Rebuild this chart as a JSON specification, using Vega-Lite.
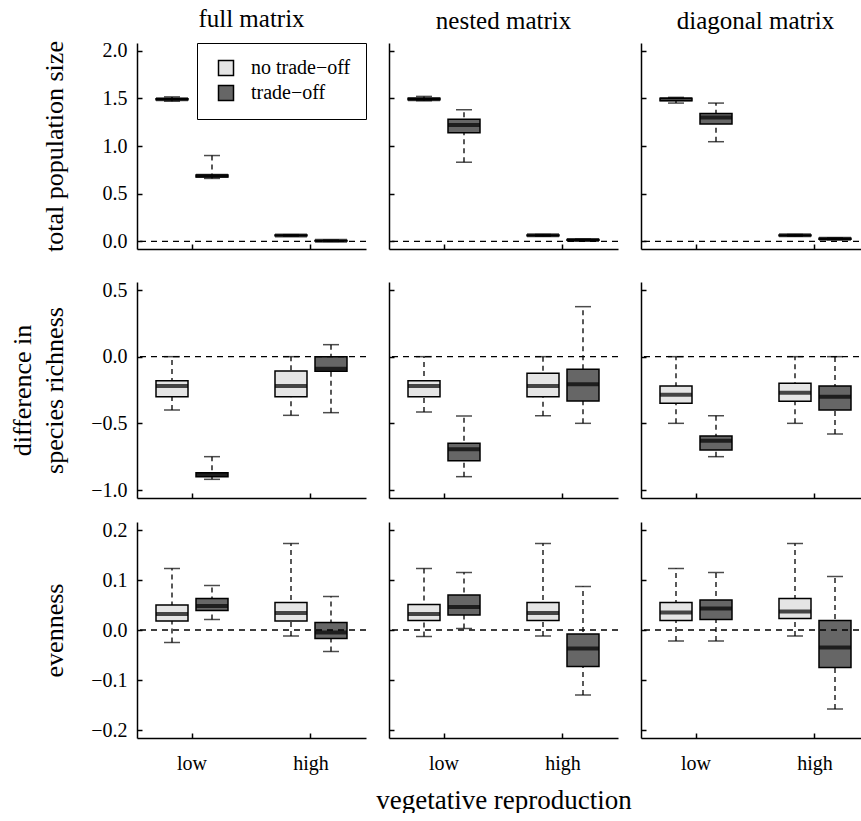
{
"$schema": "https://vega.github.io/schema/vega-lite/v6.json",
"padding": {"left": 9, "top": 6, "right": 0, "bottom": 0},
"background": "white",
"config": {
  "font": "Liberation Serif",
  "view": {"stroke": null},
  "axis": {"domainColor": "black", "domainWidth": 1.5, "tickColor": "black", "tickWidth": 1.5, "tickSize": -5, "labelFont": "Liberation Serif", "labelFontSize": 20, "labelColor": "black", "titleFont": "Liberation Serif", "titleFontWeight": "normal", "titleColor": "black", "titleFontSize": 26, "grid": false},
  "axisX": {"labelPadding": 20, "labelAngle": 0},
  "axisY": {"labelPadding": 15},
  "title": {"font": "Liberation Serif", "fontSize": 25, "fontWeight": "normal", "color": "black", "anchor": "middle", "offset": 9}
},
"datasets": {"stats": [
 {"metric":"pop","matrix":"full","vr":"low","trade":"no trade−off","lo":1.47,"q1":1.485,"med":1.49,"q3":1.495,"hi":1.515},
 {"metric":"pop","matrix":"full","vr":"low","trade":"trade−off","lo":0.66,"q1":0.675,"med":0.688,"q3":0.695,"hi":0.9},
 {"metric":"pop","matrix":"full","vr":"high","trade":"no trade−off","lo":0.055,"q1":0.058,"med":0.062,"q3":0.066,"hi":0.07},
 {"metric":"pop","matrix":"full","vr":"high","trade":"trade−off","lo":0.0,"q1":0.004,"med":0.007,"q3":0.01,"hi":0.014},
 {"metric":"pop","matrix":"nested","vr":"low","trade":"no trade−off","lo":1.475,"q1":1.485,"med":1.49,"q3":1.5,"hi":1.52},
 {"metric":"pop","matrix":"nested","vr":"low","trade":"trade−off","lo":0.83,"q1":1.14,"med":1.22,"q3":1.28,"hi":1.38},
 {"metric":"pop","matrix":"nested","vr":"high","trade":"no trade−off","lo":0.055,"q1":0.058,"med":0.063,"q3":0.067,"hi":0.072},
 {"metric":"pop","matrix":"nested","vr":"high","trade":"trade−off","lo":0.008,"q1":0.011,"med":0.015,"q3":0.019,"hi":0.023},
 {"metric":"pop","matrix":"diagonal","vr":"low","trade":"no trade−off","lo":1.45,"q1":1.475,"med":1.49,"q3":1.5,"hi":1.51},
 {"metric":"pop","matrix":"diagonal","vr":"low","trade":"trade−off","lo":1.045,"q1":1.23,"med":1.3,"q3":1.34,"hi":1.45},
 {"metric":"pop","matrix":"diagonal","vr":"high","trade":"no trade−off","lo":0.055,"q1":0.058,"med":0.063,"q3":0.068,"hi":0.072},
 {"metric":"pop","matrix":"diagonal","vr":"high","trade":"trade−off","lo":0.018,"q1":0.022,"med":0.027,"q3":0.032,"hi":0.036},
 {"metric":"rich","matrix":"full","vr":"low","trade":"no trade−off","lo":-0.4,"q1":-0.3,"med":-0.22,"q3":-0.18,"hi":0.0},
 {"metric":"rich","matrix":"full","vr":"low","trade":"trade−off","lo":-0.92,"q1":-0.9,"med":-0.885,"q3":-0.87,"hi":-0.75},
 {"metric":"rich","matrix":"full","vr":"high","trade":"no trade−off","lo":-0.44,"q1":-0.3,"med":-0.22,"q3":-0.107,"hi":0.0},
 {"metric":"rich","matrix":"full","vr":"high","trade":"trade−off","lo":-0.42,"q1":-0.11,"med":-0.09,"q3":0.0,"hi":0.09},
 {"metric":"rich","matrix":"nested","vr":"low","trade":"no trade−off","lo":-0.415,"q1":-0.3,"med":-0.22,"q3":-0.18,"hi":0.0},
 {"metric":"rich","matrix":"nested","vr":"low","trade":"trade−off","lo":-0.9,"q1":-0.78,"med":-0.695,"q3":-0.65,"hi":-0.445},
 {"metric":"rich","matrix":"nested","vr":"high","trade":"no trade−off","lo":-0.443,"q1":-0.3,"med":-0.22,"q3":-0.125,"hi":0.0},
 {"metric":"rich","matrix":"nested","vr":"high","trade":"trade−off","lo":-0.5,"q1":-0.333,"med":-0.207,"q3":-0.095,"hi":0.375},
 {"metric":"rich","matrix":"diagonal","vr":"low","trade":"no trade−off","lo":-0.5,"q1":-0.35,"med":-0.285,"q3":-0.22,"hi":0.0},
 {"metric":"rich","matrix":"diagonal","vr":"low","trade":"trade−off","lo":-0.75,"q1":-0.7,"med":-0.63,"q3":-0.595,"hi":-0.443},
 {"metric":"rich","matrix":"diagonal","vr":"high","trade":"no trade−off","lo":-0.5,"q1":-0.335,"med":-0.27,"q3":-0.2,"hi":0.0},
 {"metric":"rich","matrix":"diagonal","vr":"high","trade":"trade−off","lo":-0.58,"q1":-0.4,"med":-0.3,"q3":-0.22,"hi":0.0},
 {"metric":"even","matrix":"full","vr":"low","trade":"no trade−off","lo":-0.025,"q1":0.018,"med":0.032,"q3":0.05,"hi":0.123},
 {"metric":"even","matrix":"full","vr":"low","trade":"trade−off","lo":0.021,"q1":0.039,"med":0.048,"q3":0.063,"hi":0.089},
 {"metric":"even","matrix":"full","vr":"high","trade":"no trade−off","lo":-0.012,"q1":0.018,"med":0.034,"q3":0.055,"hi":0.173},
 {"metric":"even","matrix":"full","vr":"high","trade":"trade−off","lo":-0.043,"q1":-0.017,"med":-0.005,"q3":0.015,"hi":0.067},
 {"metric":"even","matrix":"nested","vr":"low","trade":"no trade−off","lo":-0.013,"q1":0.019,"med":0.032,"q3":0.051,"hi":0.123},
 {"metric":"even","matrix":"nested","vr":"low","trade":"trade−off","lo":0.003,"q1":0.03,"med":0.046,"q3":0.07,"hi":0.115},
 {"metric":"even","matrix":"nested","vr":"high","trade":"no trade−off","lo":-0.012,"q1":0.019,"med":0.034,"q3":0.055,"hi":0.173},
 {"metric":"even","matrix":"nested","vr":"high","trade":"trade−off","lo":-0.13,"q1":-0.073,"med":-0.037,"q3":-0.008,"hi":0.087},
 {"metric":"even","matrix":"diagonal","vr":"low","trade":"no trade−off","lo":-0.022,"q1":0.019,"med":0.035,"q3":0.055,"hi":0.123},
 {"metric":"even","matrix":"diagonal","vr":"low","trade":"trade−off","lo":-0.022,"q1":0.021,"med":0.043,"q3":0.06,"hi":0.115},
 {"metric":"even","matrix":"diagonal","vr":"high","trade":"no trade−off","lo":-0.012,"q1":0.023,"med":0.037,"q3":0.063,"hi":0.173},
 {"metric":"even","matrix":"diagonal","vr":"high","trade":"trade−off","lo":-0.158,"q1":-0.075,"med":-0.035,"q3":0.019,"hi":0.107}
]},
"columns": 3,
"align": "each",
"spacing": {"row": 19, "column": 8},
"resolve": {"scale": {"fill": "independent"}, "legend": {"fill": "independent"}},
"concat": [
 {"width": 229, "height": 206, "title": {"text": "full matrix"},
  "layer": [
   {"data": {"name": "stats"}, "transform": [{"filter": "datum.metric === 'pop' && datum.matrix === 'full'"}],
    "encoding": {"x": {"field": "vr", "type": "nominal", "scale": {"domain": ["low","high"], "paddingInner": 0.2, "paddingOuter": 0.0622}, "axis": {"labels": false, "title": " ", "titleFontSize": 12, "titlePadding": 0}},
                 "xOffset": {"field": "trade", "type": "nominal", "scale": {"domain": ["no trade−off","trade−off"], "paddingInner": 0.2, "paddingOuter": 0.29}}},
    "layer": [
     {"mark": {"type": "rule", "color": "black", "strokeWidth": 1.3, "strokeDash": [5,4]}, "encoding": {"y": {"field": "lo", "type": "quantitative", "scale": {"domain": [-0.08, 2.08], "nice": false, "zero": false}, "axis": {"values": [0,0.5,1,1.5,2], "format": ".1f", "title": "total population size", "titleX": -70, "titleBaseline": "bottom"}}, "y2": {"field": "hi"}}},
     {"mark": {"type": "tick", "color": "black", "size": 16, "thickness": 1.5}, "encoding": {"y": {"field": "lo", "type": "quantitative"}}},
     {"mark": {"type": "tick", "color": "black", "size": 16, "thickness": 1.5}, "encoding": {"y": {"field": "hi", "type": "quantitative"}}},
     {"mark": {"type": "bar", "stroke": "black", "strokeWidth": 1.5}, "encoding": {"y": {"field": "q1", "type": "quantitative"}, "y2": {"field": "q3"},
       "fill": {"field": "trade", "type": "nominal", "scale": {"domain": ["no trade−off","trade−off"], "range": ["#e5e5e5","#666666"]},
        "legend": {"orient": "top-right", "offset": 0, "title": null, "padding": 15, "strokeColor": "black", "fillColor": "white", "symbolType": "square", "symbolSize": 225, "symbolStrokeColor": "black", "symbolStrokeWidth": 1.5, "symbolOffset": 4, "labelFont": "Liberation Serif", "labelFontSize": 20, "labelColor": "black", "labelOffset": 15, "rowPadding": 3}}}},
     {"mark": {"type": "tick", "color": "black", "size": 32, "thickness": 4}, "encoding": {"y": {"field": "med", "type": "quantitative"}}}
    ]},
   {"data": {"values": [{"zero": 0}]}, "mark": {"type": "rule", "color": "black", "strokeWidth": 1.3, "strokeDash": [6,5]}, "encoding": {"y": {"field": "zero", "type": "quantitative"}}}
  ]},
 {"width": 229, "height": 206, "title": {"text": "nested matrix"},
  "layer": [
   {"data": {"name": "stats"}, "transform": [{"filter": "datum.metric === 'pop' && datum.matrix === 'nested'"}],
    "encoding": {"x": {"field": "vr", "type": "nominal", "scale": {"domain": ["low","high"], "paddingInner": 0.2, "paddingOuter": 0.0622}, "axis": {"labels": false, "title": " ", "titleFontSize": 12, "titlePadding": 0}},
                 "xOffset": {"field": "trade", "type": "nominal", "scale": {"domain": ["no trade−off","trade−off"], "paddingInner": 0.2, "paddingOuter": 0.29}}},
    "layer": [
     {"mark": {"type": "rule", "color": "black", "strokeWidth": 1.3, "strokeDash": [5,4]}, "encoding": {"y": {"field": "lo", "type": "quantitative", "scale": {"domain": [-0.08, 2.08], "nice": false, "zero": false}, "axis": {"values": [0,0.5,1,1.5,2], "labels": false, "title": null}}, "y2": {"field": "hi"}}},
     {"mark": {"type": "tick", "color": "black", "size": 16, "thickness": 1.5}, "encoding": {"y": {"field": "lo", "type": "quantitative"}}},
     {"mark": {"type": "tick", "color": "black", "size": 16, "thickness": 1.5}, "encoding": {"y": {"field": "hi", "type": "quantitative"}}},
     {"mark": {"type": "bar", "stroke": "black", "strokeWidth": 1.5}, "encoding": {"y": {"field": "q1", "type": "quantitative"}, "y2": {"field": "q3"},
       "fill": {"field": "trade", "type": "nominal", "scale": {"domain": ["no trade−off","trade−off"], "range": ["#e5e5e5","#666666"]}, "legend": null}}},
     {"mark": {"type": "tick", "color": "black", "size": 32, "thickness": 4}, "encoding": {"y": {"field": "med", "type": "quantitative"}}}
    ]},
   {"data": {"values": [{"zero": 0}]}, "mark": {"type": "rule", "color": "black", "strokeWidth": 1.3, "strokeDash": [6,5]}, "encoding": {"y": {"field": "zero", "type": "quantitative"}}}
  ]},
 {"width": 229, "height": 206, "title": {"text": "diagonal matrix"},
  "layer": [
   {"data": {"name": "stats"}, "transform": [{"filter": "datum.metric === 'pop' && datum.matrix === 'diagonal'"}],
    "encoding": {"x": {"field": "vr", "type": "nominal", "scale": {"domain": ["low","high"], "paddingInner": 0.2, "paddingOuter": 0.0622}, "axis": {"labels": false, "title": " ", "titleFontSize": 12, "titlePadding": 0}},
                 "xOffset": {"field": "trade", "type": "nominal", "scale": {"domain": ["no trade−off","trade−off"], "paddingInner": 0.2, "paddingOuter": 0.29}}},
    "layer": [
     {"mark": {"type": "rule", "color": "black", "strokeWidth": 1.3, "strokeDash": [5,4]}, "encoding": {"y": {"field": "lo", "type": "quantitative", "scale": {"domain": [-0.08, 2.08], "nice": false, "zero": false}, "axis": {"values": [0,0.5,1,1.5,2], "labels": false, "title": null}}, "y2": {"field": "hi"}}},
     {"mark": {"type": "tick", "color": "black", "size": 16, "thickness": 1.5}, "encoding": {"y": {"field": "lo", "type": "quantitative"}}},
     {"mark": {"type": "tick", "color": "black", "size": 16, "thickness": 1.5}, "encoding": {"y": {"field": "hi", "type": "quantitative"}}},
     {"mark": {"type": "bar", "stroke": "black", "strokeWidth": 1.5}, "encoding": {"y": {"field": "q1", "type": "quantitative"}, "y2": {"field": "q3"},
       "fill": {"field": "trade", "type": "nominal", "scale": {"domain": ["no trade−off","trade−off"], "range": ["#e5e5e5","#666666"]}, "legend": null}}},
     {"mark": {"type": "tick", "color": "black", "size": 32, "thickness": 4}, "encoding": {"y": {"field": "med", "type": "quantitative"}}}
    ]},
   {"data": {"values": [{"zero": 0}]}, "mark": {"type": "rule", "color": "black", "strokeWidth": 1.3, "strokeDash": [6,5]}, "encoding": {"y": {"field": "zero", "type": "quantitative"}}}
  ]},
 {"width": 229, "height": 216,
  "layer": [
   {"data": {"name": "stats"}, "transform": [{"filter": "datum.metric === 'rich' && datum.matrix === 'full'"}],
    "encoding": {"x": {"field": "vr", "type": "nominal", "scale": {"domain": ["low","high"], "paddingInner": 0.2, "paddingOuter": 0.0622}, "axis": {"labels": false, "title": null}},
                 "xOffset": {"field": "trade", "type": "nominal", "scale": {"domain": ["no trade−off","trade−off"], "paddingInner": 0.2, "paddingOuter": 0.29}}},
    "layer": [
     {"mark": {"type": "rule", "color": "black", "strokeWidth": 1.3, "strokeDash": [5,4]}, "encoding": {"y": {"field": "lo", "type": "quantitative", "scale": {"domain": [-1.06, 0.56], "nice": false, "zero": false}, "axis": {"values": [-1,-0.5,0,0.5], "format": ".1f", "title": ["difference in", "species richness"], "titleX": -102, "titleBaseline": "bottom", "titleLineHeight": 32}}, "y2": {"field": "hi"}}},
     {"mark": {"type": "tick", "color": "black", "size": 16, "thickness": 1.5}, "encoding": {"y": {"field": "lo", "type": "quantitative"}}},
     {"mark": {"type": "tick", "color": "black", "size": 16, "thickness": 1.5}, "encoding": {"y": {"field": "hi", "type": "quantitative"}}},
     {"mark": {"type": "bar", "stroke": "black", "strokeWidth": 1.5}, "encoding": {"y": {"field": "q1", "type": "quantitative"}, "y2": {"field": "q3"},
       "fill": {"field": "trade", "type": "nominal", "scale": {"domain": ["no trade−off","trade−off"], "range": ["#e5e5e5","#666666"]}, "legend": null}}},
     {"mark": {"type": "tick", "color": "black", "size": 32, "thickness": 4}, "encoding": {"y": {"field": "med", "type": "quantitative"}}}
    ]},
   {"data": {"values": [{"zero": 0}]}, "mark": {"type": "rule", "color": "black", "strokeWidth": 1.3, "strokeDash": [6,5]}, "encoding": {"y": {"field": "zero", "type": "quantitative"}}}
  ]},
 {"width": 229, "height": 216,
  "layer": [
   {"data": {"name": "stats"}, "transform": [{"filter": "datum.metric === 'rich' && datum.matrix === 'nested'"}],
    "encoding": {"x": {"field": "vr", "type": "nominal", "scale": {"domain": ["low","high"], "paddingInner": 0.2, "paddingOuter": 0.0622}, "axis": {"labels": false, "title": null}},
                 "xOffset": {"field": "trade", "type": "nominal", "scale": {"domain": ["no trade−off","trade−off"], "paddingInner": 0.2, "paddingOuter": 0.29}}},
    "layer": [
     {"mark": {"type": "rule", "color": "black", "strokeWidth": 1.3, "strokeDash": [5,4]}, "encoding": {"y": {"field": "lo", "type": "quantitative", "scale": {"domain": [-1.06, 0.56], "nice": false, "zero": false}, "axis": {"values": [-1,-0.5,0,0.5], "labels": false, "title": null}}, "y2": {"field": "hi"}}},
     {"mark": {"type": "tick", "color": "black", "size": 16, "thickness": 1.5}, "encoding": {"y": {"field": "lo", "type": "quantitative"}}},
     {"mark": {"type": "tick", "color": "black", "size": 16, "thickness": 1.5}, "encoding": {"y": {"field": "hi", "type": "quantitative"}}},
     {"mark": {"type": "bar", "stroke": "black", "strokeWidth": 1.5}, "encoding": {"y": {"field": "q1", "type": "quantitative"}, "y2": {"field": "q3"},
       "fill": {"field": "trade", "type": "nominal", "scale": {"domain": ["no trade−off","trade−off"], "range": ["#e5e5e5","#666666"]}, "legend": null}}},
     {"mark": {"type": "tick", "color": "black", "size": 32, "thickness": 4}, "encoding": {"y": {"field": "med", "type": "quantitative"}}}
    ]},
   {"data": {"values": [{"zero": 0}]}, "mark": {"type": "rule", "color": "black", "strokeWidth": 1.3, "strokeDash": [6,5]}, "encoding": {"y": {"field": "zero", "type": "quantitative"}}}
  ]},
 {"width": 229, "height": 216,
  "layer": [
   {"data": {"name": "stats"}, "transform": [{"filter": "datum.metric === 'rich' && datum.matrix === 'diagonal'"}],
    "encoding": {"x": {"field": "vr", "type": "nominal", "scale": {"domain": ["low","high"], "paddingInner": 0.2, "paddingOuter": 0.0622}, "axis": {"labels": false, "title": null}},
                 "xOffset": {"field": "trade", "type": "nominal", "scale": {"domain": ["no trade−off","trade−off"], "paddingInner": 0.2, "paddingOuter": 0.29}}},
    "layer": [
     {"mark": {"type": "rule", "color": "black", "strokeWidth": 1.3, "strokeDash": [5,4]}, "encoding": {"y": {"field": "lo", "type": "quantitative", "scale": {"domain": [-1.06, 0.56], "nice": false, "zero": false}, "axis": {"values": [-1,-0.5,0,0.5], "labels": false, "title": null}}, "y2": {"field": "hi"}}},
     {"mark": {"type": "tick", "color": "black", "size": 16, "thickness": 1.5}, "encoding": {"y": {"field": "lo", "type": "quantitative"}}},
     {"mark": {"type": "tick", "color": "black", "size": 16, "thickness": 1.5}, "encoding": {"y": {"field": "hi", "type": "quantitative"}}},
     {"mark": {"type": "bar", "stroke": "black", "strokeWidth": 1.5}, "encoding": {"y": {"field": "q1", "type": "quantitative"}, "y2": {"field": "q3"},
       "fill": {"field": "trade", "type": "nominal", "scale": {"domain": ["no trade−off","trade−off"], "range": ["#e5e5e5","#666666"]}, "legend": null}}},
     {"mark": {"type": "tick", "color": "black", "size": 32, "thickness": 4}, "encoding": {"y": {"field": "med", "type": "quantitative"}}}
    ]},
   {"data": {"values": [{"zero": 0}]}, "mark": {"type": "rule", "color": "black", "strokeWidth": 1.3, "strokeDash": [6,5]}, "encoding": {"y": {"field": "zero", "type": "quantitative"}}}
  ]},
 {"width": 229, "height": 216,
  "layer": [
   {"data": {"name": "stats"}, "transform": [{"filter": "datum.metric === 'even' && datum.matrix === 'full'"}],
    "encoding": {"x": {"field": "vr", "type": "nominal", "scale": {"domain": ["low","high"], "paddingInner": 0.2, "paddingOuter": 0.0622}, "axis": {"title": null}},
                 "xOffset": {"field": "trade", "type": "nominal", "scale": {"domain": ["no trade−off","trade−off"], "paddingInner": 0.2, "paddingOuter": 0.29}}},
    "layer": [
     {"mark": {"type": "rule", "color": "black", "strokeWidth": 1.3, "strokeDash": [5,4]}, "encoding": {"y": {"field": "lo", "type": "quantitative", "scale": {"domain": [-0.216, 0.216], "nice": false, "zero": false}, "axis": {"values": [-0.2,-0.1,0,0.1,0.2], "format": ".1f", "title": "evenness", "titleX": -70, "titleBaseline": "bottom"}}, "y2": {"field": "hi"}}},
     {"mark": {"type": "tick", "color": "black", "size": 16, "thickness": 1.5}, "encoding": {"y": {"field": "lo", "type": "quantitative"}}},
     {"mark": {"type": "tick", "color": "black", "size": 16, "thickness": 1.5}, "encoding": {"y": {"field": "hi", "type": "quantitative"}}},
     {"mark": {"type": "bar", "stroke": "black", "strokeWidth": 1.5}, "encoding": {"y": {"field": "q1", "type": "quantitative"}, "y2": {"field": "q3"},
       "fill": {"field": "trade", "type": "nominal", "scale": {"domain": ["no trade−off","trade−off"], "range": ["#e5e5e5","#666666"]}, "legend": null}}},
     {"mark": {"type": "tick", "color": "black", "size": 32, "thickness": 4}, "encoding": {"y": {"field": "med", "type": "quantitative"}}}
    ]},
   {"data": {"values": [{"zero": 0}]}, "mark": {"type": "rule", "color": "black", "strokeWidth": 1.3, "strokeDash": [6,5]}, "encoding": {"y": {"field": "zero", "type": "quantitative"}}}
  ]},
 {"width": 229, "height": 216,
  "layer": [
   {"data": {"name": "stats"}, "transform": [{"filter": "datum.metric === 'even' && datum.matrix === 'nested'"}],
    "encoding": {"x": {"field": "vr", "type": "nominal", "scale": {"domain": ["low","high"], "paddingInner": 0.2, "paddingOuter": 0.0622}, "axis": {"title": "vegetative reproduction", "titleFontSize": 27, "titlePadding": 14}},
                 "xOffset": {"field": "trade", "type": "nominal", "scale": {"domain": ["no trade−off","trade−off"], "paddingInner": 0.2, "paddingOuter": 0.29}}},
    "layer": [
     {"mark": {"type": "rule", "color": "black", "strokeWidth": 1.3, "strokeDash": [5,4]}, "encoding": {"y": {"field": "lo", "type": "quantitative", "scale": {"domain": [-0.216, 0.216], "nice": false, "zero": false}, "axis": {"values": [-0.2,-0.1,0,0.1,0.2], "labels": false, "title": null}}, "y2": {"field": "hi"}}},
     {"mark": {"type": "tick", "color": "black", "size": 16, "thickness": 1.5}, "encoding": {"y": {"field": "lo", "type": "quantitative"}}},
     {"mark": {"type": "tick", "color": "black", "size": 16, "thickness": 1.5}, "encoding": {"y": {"field": "hi", "type": "quantitative"}}},
     {"mark": {"type": "bar", "stroke": "black", "strokeWidth": 1.5}, "encoding": {"y": {"field": "q1", "type": "quantitative"}, "y2": {"field": "q3"},
       "fill": {"field": "trade", "type": "nominal", "scale": {"domain": ["no trade−off","trade−off"], "range": ["#e5e5e5","#666666"]}, "legend": null}}},
     {"mark": {"type": "tick", "color": "black", "size": 32, "thickness": 4}, "encoding": {"y": {"field": "med", "type": "quantitative"}}}
    ]},
   {"data": {"values": [{"zero": 0}]}, "mark": {"type": "rule", "color": "black", "strokeWidth": 1.3, "strokeDash": [6,5]}, "encoding": {"y": {"field": "zero", "type": "quantitative"}}}
  ]},
 {"width": 229, "height": 216,
  "layer": [
   {"data": {"name": "stats"}, "transform": [{"filter": "datum.metric === 'even' && datum.matrix === 'diagonal'"}],
    "encoding": {"x": {"field": "vr", "type": "nominal", "scale": {"domain": ["low","high"], "paddingInner": 0.2, "paddingOuter": 0.0622}, "axis": {"title": null}},
                 "xOffset": {"field": "trade", "type": "nominal", "scale": {"domain": ["no trade−off","trade−off"], "paddingInner": 0.2, "paddingOuter": 0.29}}},
    "layer": [
     {"mark": {"type": "rule", "color": "black", "strokeWidth": 1.3, "strokeDash": [5,4]}, "encoding": {"y": {"field": "lo", "type": "quantitative", "scale": {"domain": [-0.216, 0.216], "nice": false, "zero": false}, "axis": {"values": [-0.2,-0.1,0,0.1,0.2], "labels": false, "title": null}}, "y2": {"field": "hi"}}},
     {"mark": {"type": "tick", "color": "black", "size": 16, "thickness": 1.5}, "encoding": {"y": {"field": "lo", "type": "quantitative"}}},
     {"mark": {"type": "tick", "color": "black", "size": 16, "thickness": 1.5}, "encoding": {"y": {"field": "hi", "type": "quantitative"}}},
     {"mark": {"type": "bar", "stroke": "black", "strokeWidth": 1.5}, "encoding": {"y": {"field": "q1", "type": "quantitative"}, "y2": {"field": "q3"},
       "fill": {"field": "trade", "type": "nominal", "scale": {"domain": ["no trade−off","trade−off"], "range": ["#e5e5e5","#666666"]}, "legend": null}}},
     {"mark": {"type": "tick", "color": "black", "size": 32, "thickness": 4}, "encoding": {"y": {"field": "med", "type": "quantitative"}}}
    ]},
   {"data": {"values": [{"zero": 0}]}, "mark": {"type": "rule", "color": "black", "strokeWidth": 1.3, "strokeDash": [6,5]}, "encoding": {"y": {"field": "zero", "type": "quantitative"}}}
  ]}
]
}
